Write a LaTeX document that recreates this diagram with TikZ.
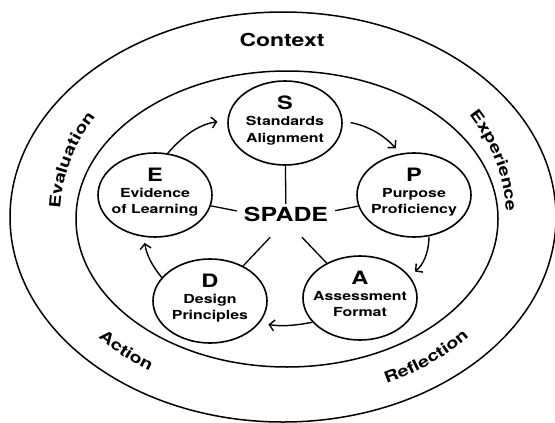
\documentclass[tikz,border=0pt]{standalone}
\usepackage{fontspec}
\setmainfont{TeX Gyre Heros}[FakeStretch=1.28]
\usetikzlibrary{arrows.meta, shapes.geometric, decorations.text}

\newcommand{\stageletter}[1]{{\fontsize{18.5}{16.5}\selectfont #1}}

\begin{document}
\begin{tikzpicture}[x=1bp, y=1bp,
    stage/.style={ellipse, draw, line width=1.6bp, minimum width=114bp, minimum height=84bp,
        inner sep=-10bp, align=center, text depth=8.5bp, font=\bfseries\fontsize{12.5}{16.5}\selectfont},
    spoke/.style={line width=1.3bp},
    flow/.style={-{Straight Barb[length=5bp, width=11bp]}, line width=1.4bp},
    ringtext/.style={decorate, decoration={text along path, text align=center,
        text={|\bfseries\fontsize{15.5}{18}\selectfont|#1}}}]
    \useasboundingbox (0,0) rectangle (555,422);

    % the two rings
    \draw[line width=1.5bp] (283,205) ellipse [x radius=273, y radius=205];
    \draw[line width=1.5bp] (287,203) ellipse [x radius=211, y radius=148];

    \node[font=\bfseries\fontsize{18}{20}\selectfont, anchor=base] (context) at (282,376) {Context};
    \path[ringtext=Evaluation] ([shift={(283,205)}]193:223 and 185) arc[start angle=193, end angle=133, x radius=223, y radius=185];
    \path[ringtext=Experience] ([shift={(283,205)}]47:223 and 185) arc[start angle=47, end angle=-13, x radius=223, y radius=185];
    \path[ringtext=Action] ([shift={(283,205)}]205:245 and 184) arc[start angle=205, end angle=251, x radius=245, y radius=184];
    \path[ringtext=Reflection] ([shift={(283,205)}]285:245 and 184) arc[start angle=285, end angle=331, x radius=245, y radius=184];

    % the five stages
    \node[stage] (S) at (285,299) {\stageletter{S}\\Standards\\Alignment};
    \node[stage] (P) at (414,227) {\stageletter{P}\\Purpose\\Proficiency};
    \node[stage] (A) at (360,124) {\stageletter{A}\\Assessment\\Format};
    \node[stage] (D) at (210,121) {\stageletter{D}\\Design\\Principles};
    \node[stage] (E) at (155,227) {\stageletter{E}\\Evidence\\of Learning};

    \node[font=\bfseries\fontsize{19.5}{20}\selectfont, minimum width=98bp, minimum height=33bp,
        inner sep=0pt, text height=14bp, text depth=13bp] (spade) at (286,201.5) {SPADE};

    \foreach \n in {S,P,A,D,E}
        \draw[spoke] (spade) -- (\n);

    % clockwise cycle
    \draw[flow, shorten >=10bp] (E.73) to[bend left=20] (S.177);
    \draw[flow, shorten <=8bp, shorten >=7bp] (S.2) to[bend left=18] (P.108);
    \draw[flow, shorten >=7bp] (P.-70) to[bend left=25] (A.24);
    \draw[flow, shorten >=9bp] (A.207) to[bend left=10] (D.-24);
    \draw[flow, shorten >=6bp] (D.154) to[bend left=15] (E.255);
\end{tikzpicture}
\end{document}
